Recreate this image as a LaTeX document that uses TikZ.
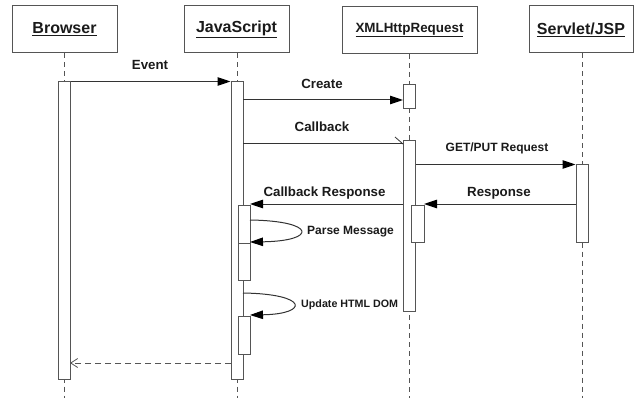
\documentclass[tikz,border=0pt]{standalone}
\usepackage{fontspec}
\setmainfont{Liberation Sans}
\usetikzlibrary{arrows.meta}
\definecolor{linec}{HTML}{333333}
\definecolor{boxc}{HTML}{555555}
\definecolor{txtc}{HTML}{1A1A1A}
\begin{document}
\begin{tikzpicture}[x=1pt,y=-1pt,
  head/.style={draw=boxc, line width=1pt, minimum width=105pt, minimum height=47pt, inner sep=0pt,
    font=\bfseries\fontsize{16}{18}\selectfont, text=txtc},
  life/.style={draw=boxc, dash pattern=on 5pt off 4pt, line width=1pt},
  act/.style={draw=boxc, fill=white, line width=1pt, minimum width=12pt, inner sep=0pt},
  msg/.style={draw=linec, line width=1pt, -{Triangle[length=13pt,width=8.5pt,color=black,fill=black]}},
  plain/.style={draw=linec, line width=1pt},
  ret/.style={draw=boxc, line width=1pt, dash pattern=on 6pt off 4pt, -{Straight Barb[length=7pt,width=9pt,line width=0.8pt]}},
  lbl/.style={font=\bfseries\fontsize{13.3}{15}\selectfont, text=txtc, inner sep=0pt}
]
\useasboundingbox (0,0) rectangle (634,398);

% header boxes
\node[head] (hb) at (64.5,29.5) {\underline{Browser}};
\node[head] (hj) at (236.5,29.5) {\underline{JavaScript}};
\node[head, minimum width=135pt, font=\bfseries\fontsize{13.4}{15}\selectfont] (hx) at (409.5,30) {\underline{XMLHttpRequest}};
\node[head, minimum width=104pt] (hs) at (581,29.5) {\underline{Servlet/JSP}};

% lifeline ends
\coordinate (eb) at (64,398);
\coordinate (ej) at (237,398);
\coordinate (ex) at (409.5,398);
\coordinate (es) at (582,398);
\draw[life] (hb.south -| eb) -- (eb);
\draw[life] (hj.south -| ej) -- (ej);
\draw[life] (hx.south -| ex) -- (ex);
\draw[life] (hs.south -| es) -- (es);

% activations
\node[act, minimum height=297pt] (ab) at (64,230.5) {};
\node[act, minimum height=297pt] (aj) at (237,230.5) {};
\node[act, minimum height=38pt] (aj1) at (244,224) {};
\node[act, minimum height=37pt] (aj2) at (244,261.5) {};
\node[act, minimum height=38pt] (aj3) at (244,335) {};
\node[act, minimum height=24pt] (ax1) at (409.5,97) {};
\node[act, minimum height=170pt] (ax2) at (409.5,226) {};
\node[act, minimum height=37pt, minimum width=13pt] (ax3) at (417.5,223.5) {};
\node[act, minimum height=77pt] (as) at (582,203.5) {};

% message end points
\coordinate (cr1) at (243,100);
\coordinate (cr2) at (403,100);
\coordinate (cb1) at (243,144);
\coordinate (cb2) at (403,144);
\coordinate (cbt) at (395,137);
\coordinate (rs1) at (576,204);
\coordinate (rs2) at (424,204);
\coordinate (cr3) at (403,204);
\coordinate (cr4) at (250,204);
\coordinate (pm1) at (250,220);
\coordinate (pm2) at (250,242);
\coordinate (ud1) at (243,293);
\coordinate (ud2) at (250,315);
\coordinate (rt1) at (231,363);
\coordinate (rt2) at (70,363);

% messages
\draw[msg] (ab.north east) -- (aj.north west);
\draw[msg] (cr1) -- (cr2);
\draw[plain] (cb1) -- (cb2);
\draw[draw=linec, line width=0.8pt] (cbt) -- (cb2);
\draw[msg] (ax2.east |- as.north) -- (as.north west);
\draw[msg] (rs1) -- (rs2);
\draw[msg] (cr3) -- (cr4);
\draw[msg] (pm1) .. controls (317,221) and (317,241) .. (pm2);
\draw[msg] (ud1) .. controls (309,294) and (309,314) .. (ud2);
\draw[ret] (rt1) -- (rt2);

% labels
\node[lbl] (lev) at (150,65) {Event};
\node[lbl] (lcr) at (322,84) {Create};
\node[lbl] (lcb) at (322,127) {Callback};
\node[lbl, font=\bfseries\fontsize{12}{14}\selectfont] (lgp) at (497,148) {GET/PUT Request};
\node[lbl] (lcrs) at (324.5,193) {Callback Response};
\node[lbl] (lrs) at (499,193) {Response};
\node[lbl, anchor=west, font=\bfseries\fontsize{12}{14}\selectfont] (lpm) at (307,231.5) {Parse Message};
\node[lbl, anchor=west, font=\bfseries\fontsize{10.7}{12}\selectfont] (lud) at (301,304.5) {Update HTML DOM};
\end{tikzpicture}
\end{document}
